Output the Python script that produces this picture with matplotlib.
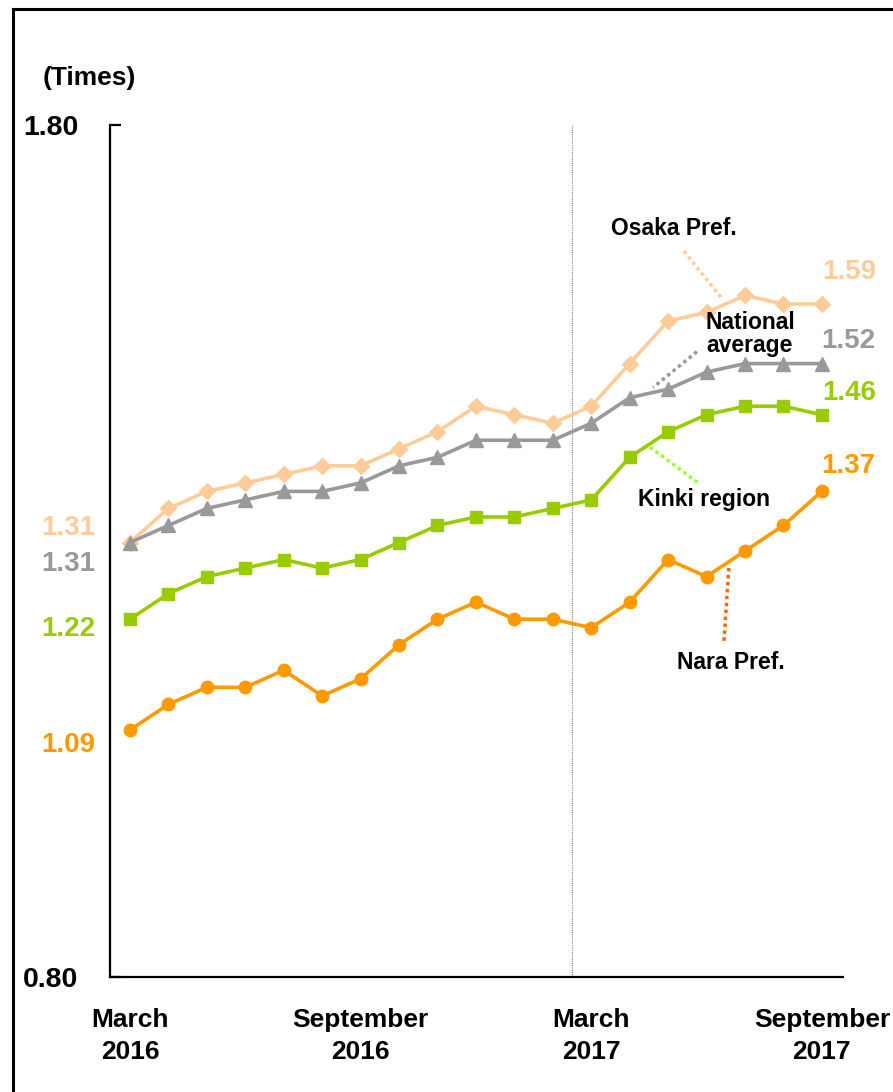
import matplotlib.pyplot as plt
from matplotlib.lines import Line2D

plt.rcParams['font.family'] = ['Liberation Sans', 'DejaVu Sans']
plt.rcParams['font.weight'] = 'bold'

# Monthly ratios, March 2016 .. September 2017
months = list(range(19))
osaka = [1.31, 1.35, 1.37, 1.38, 1.39, 1.40, 1.40, 1.42, 1.44, 1.47,
         1.46, 1.45, 1.47, 1.52, 1.57, 1.58, 1.60, 1.59, 1.59]
national = [1.31, 1.33, 1.35, 1.36, 1.37, 1.37, 1.38, 1.40, 1.41, 1.43,
            1.43, 1.43, 1.45, 1.48, 1.49, 1.51, 1.52, 1.52, 1.52]
kinki = [1.22, 1.25, 1.27, 1.28, 1.29, 1.28, 1.29, 1.31, 1.33, 1.34,
         1.34, 1.35, 1.36, 1.41, 1.44, 1.46, 1.47, 1.47, 1.46]
nara = [1.09, 1.12, 1.14, 1.14, 1.16, 1.13, 1.15, 1.19, 1.22, 1.24,
        1.22, 1.22, 1.21, 1.24, 1.29, 1.27, 1.30, 1.33, 1.37]

tick_pos = [0, 6, 12, 18]
tick_labels = ['March\n2016', 'September\n2016', 'March\n2017', 'September\n2017']

c_osaka = '#FFCC99'
c_nat = '#999999'
c_kinki = '#99CC00'
c_nara = '#FF9900'

fig = plt.figure(figsize=(8.93, 10.92), dpi=100)
ax = fig.add_axes([0.1232, 0.1053, 0.8208, 0.7802])

ax.plot(months, osaka, color=c_osaka, lw=2.6, marker='D', ms=8.5, zorder=3)
ax.plot(months, national, color=c_nat, lw=2.6, marker='^', ms=10, zorder=4)
ax.plot(months, kinki, color=c_kinki, lw=2.6, marker='s', ms=8.5, zorder=3)
ax.plot(months, nara, color=c_nara, lw=2.6, marker='o', ms=9, zorder=3)

# fiscal year boundary
ax.axvline(11.5, color='#808080', lw=0.8, ls=(0, (1, 1)), zorder=1)

ax.set_xlim(-0.52, 18.55)
ax.set_ylim(0.80, 1.80)
for s in ['top', 'right']:
    ax.spines[s].set_visible(False)
for s in ['left', 'bottom']:
    ax.spines[s].set_linewidth(1.6)

ax.set_xticks(tick_pos)
ax.set_xticklabels(tick_labels, fontsize=19, fontweight='bold', linespacing=1.45)
ax.tick_params(axis='x', length=0, pad=22)
ax.set_yticks([0.80, 1.80])
ax.set_yticklabels(['0.80', '1.80'], fontsize=20.5, fontweight='bold')
ax.tick_params(axis='y', direction='in', length=8, width=1.6, pad=23)

ax.text(-2.28, 1.855, '(Times)', fontsize=19, fontweight='bold', ha='left', va='center')

# start / end values
ax.text(-1.6, 1.327, f'{osaka[0]:.2f}', color=c_osaka, fontsize=20, fontweight='bold', ha='center', va='center')
ax.text(-1.6, 1.285, f'{national[0]:.2f}', color=c_nat, fontsize=20, fontweight='bold', ha='center', va='center')
ax.text(-1.6, 1.209, f'{kinki[0]:.2f}', color=c_kinki, fontsize=20, fontweight='bold', ha='center', va='center')
ax.text(-1.6, 1.072, f'{nara[0]:.2f}', color=c_nara, fontsize=20, fontweight='bold', ha='center', va='center')
ax.text(18.7, 1.627, f'{osaka[-1]:.2f}', color=c_osaka, fontsize=20, fontweight='bold', ha='center', va='center', clip_on=False)
ax.text(18.7, 1.546, f'{national[-1]:.2f}', color=c_nat, fontsize=20, fontweight='bold', ha='center', va='center', clip_on=False)
ax.text(18.7, 1.485, f'{kinki[-1]:.2f}', color=c_kinki, fontsize=20, fontweight='bold', ha='center', va='center', clip_on=False)
ax.text(18.7, 1.400, f'{nara[-1]:.2f}', color=c_nara, fontsize=20, fontweight='bold', ha='center', va='center', clip_on=False)

# series names with dotted leaders
ax.text(14.15, 1.679, 'Osaka Pref.', fontsize=16.5, fontweight='bold', ha='center', va='center')
ax.plot([14.41, 15.37], [1.652, 1.598], color=c_osaka, lw=2.5, ls=(0, (1, 1)), zorder=2)
ax.text(16.13, 1.555, 'National\naverage', fontsize=16.5, fontweight='bold', ha='center', va='center',
        linespacing=1.0, zorder=5)
ax.plot([14.75, 13.61], [1.534, 1.492], color=c_nat, lw=2.5, ls=(0, (1, 1)), zorder=2)
ax.text(14.93, 1.360, 'Kinki region', fontsize=16.5, fontweight='bold', ha='center', va='center')
ax.plot([13.53, 14.78], [1.422, 1.380], color='#99FF33', lw=2.5, ls=(0, (1, 1)), zorder=2)
ax.text(15.63, 1.169, 'Nara Pref.', fontsize=16.5, fontweight='bold', ha='center', va='center')
ax.plot([15.58, 15.45], [1.280, 1.192], color='#FF6600', lw=2.5, ls=(0, (1, 1)), zorder=2)

# outer frame (left and top edges)
fig.add_artist(Line2D([0.0146, 0.0146], [0.0, 0.9918], color='black', lw=2.2))
fig.add_artist(Line2D([0.0146, 1.0], [0.9918, 0.9918], color='black', lw=2.2))

fig.savefig('out.png', dpi=100)
